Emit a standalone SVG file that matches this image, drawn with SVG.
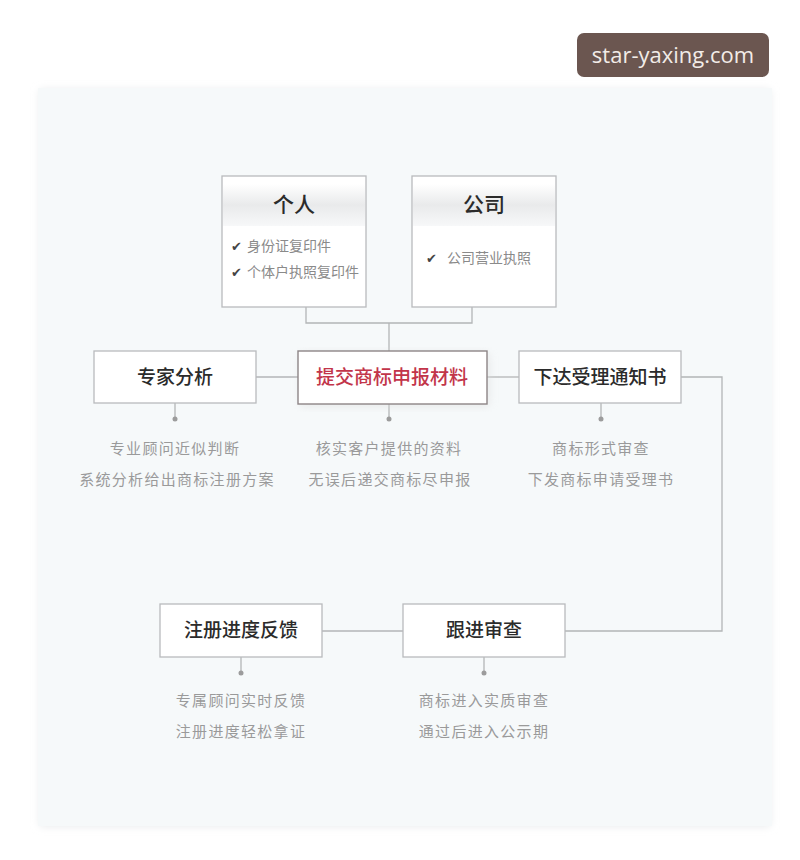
<svg xmlns="http://www.w3.org/2000/svg" width="800" height="860" viewBox="0 0 800 860">
<defs>
<linearGradient id="hdr" x1="0" y1="0" x2="0" y2="1">
<stop offset="0" stop-color="#ffffff"/>
<stop offset="0.5" stop-color="#e9eaeb"/>
<stop offset="1" stop-color="#f7f8f9"/>
</linearGradient>
<filter id="sh" x="-10%" y="-10%" width="120%" height="120%">
<feGaussianBlur stdDeviation="4"/>
</filter>
<style>
.box{fill:#ffffff;stroke:#b9bbbd;stroke-width:1.3}
.title{font-family:"Noto Sans CJK SC","Noto Sans",sans-serif;font-size:19px;font-weight:500;fill:#2b2b2b;text-anchor:middle}
.big{font-size:21px}
.item{font-family:"Noto Sans CJK SC",sans-serif;font-size:14px;fill:#8a8a8a}
.chk{font-family:"DejaVu Sans",sans-serif;font-size:13px;fill:#444}
.desc{font-family:"Noto Sans CJK SC",sans-serif;font-size:15px;fill:#9a9a9a;text-anchor:middle;letter-spacing:1.3px}
.ln{fill:none;stroke:#b3b5b7;stroke-width:1.3}
.dot{fill:#9c9c9c}
</style>
</defs>
<rect width="800" height="860" fill="#ffffff"/>
<rect x="40" y="90" width="730" height="736" fill="#e6e8ea" filter="url(#sh)"/>
<rect x="38" y="88" width="734" height="738" fill="#f6f9fa"/>

<g id="watermark">
<rect x="577" y="33" width="192" height="44" rx="7" fill="#6b5650"/>
<text x="673" y="63" font-family="Open Sans,sans-serif" font-size="22" fill="#f2ece8" text-anchor="middle">star-yaxing.com</text>
</g>

<g id="connectors">
<path class="ln" d="M306 307 V323 H472 V307"/>
<path class="ln" d="M389 323 V351"/>
<path class="ln" d="M256 377 H298"/>
<path class="ln" d="M487 377 H519"/>
<path class="ln" d="M681 377 H722 V631 H565"/>
<path class="ln" d="M322 631 H403"/>
<path class="ln" d="M175 403 V418"/>
<path class="ln" d="M389 404 V418"/>
<path class="ln" d="M601 403 V418"/>
<path class="ln" d="M241 657 V672"/>
<path class="ln" d="M484 657 V672"/>
<circle class="dot" cx="175" cy="419" r="2.5"/>
<circle class="dot" cx="389" cy="419" r="2.5"/>
<circle class="dot" cx="601" cy="419" r="2.5"/>
<circle class="dot" cx="241" cy="673" r="2.5"/>
<circle class="dot" cx="484" cy="673" r="2.5"/>
</g>

<g id="geren">
<rect class="box" x="222" y="176" width="144" height="131"/>
<rect x="223" y="184" width="142" height="42" fill="url(#hdr)"/>
<text class="title big" x="294" y="212">个人</text>
<text class="chk" x="231" y="251">✔</text>
<text class="item" x="247" y="251">身份证复印件</text>
<text class="chk" x="231" y="277">✔</text>
<text class="item" x="247" y="277">个体户执照复印件</text>
</g>

<g id="gongsi">
<rect class="box" x="412" y="176" width="144" height="131"/>
<rect x="413" y="184" width="142" height="42" fill="url(#hdr)"/>
<text class="title big" x="484" y="212">公司</text>
<text class="chk" x="426" y="263">✔</text>
<text class="item" x="447" y="263">公司营业执照</text>
</g>

<g id="zhuanjia">
<rect class="box" x="94" y="351" width="162" height="52"/>
<text class="title" x="175" y="384">专家分析</text>
<text class="desc" x="175" y="454">专业顾问近似判断</text>
<text class="desc" x="177" y="485">系统分析给出商标注册方案</text>
</g>

<g id="tijiao">
<rect x="300" y="353" width="189" height="53" fill="#dcdcdc" filter="url(#sh)" opacity="0.6"/>
<rect x="298" y="351" width="189" height="53" fill="#ffffff" stroke="#8d8587" stroke-width="1.4"/>
<text class="title" x="392" y="384" style="fill:#c2354a">提交商标申报材料</text>
<text class="desc" x="389" y="454">核实客户提供的资料</text>
<text class="desc" x="390" y="485">无误后递交商标尽申报</text>
</g>

<g id="xiada">
<rect class="box" x="519" y="351" width="162" height="52"/>
<text class="title" x="600" y="384">下达受理通知书</text>
<text class="desc" x="601" y="454">商标形式审查</text>
<text class="desc" x="601" y="485">下发商标申请受理书</text>
</g>

<g id="zhuce">
<rect class="box" x="160" y="604" width="162" height="53"/>
<text class="title" x="241" y="637">注册进度反馈</text>
<text class="desc" x="241" y="706">专属顾问实时反馈</text>
<text class="desc" x="241" y="737">注册进度轻松拿证</text>
</g>

<g id="genjin">
<rect class="box" x="403" y="604" width="162" height="53"/>
<text class="title" x="484" y="637">跟进审查</text>
<text class="desc" x="484" y="706">商标进入实质审查</text>
<text class="desc" x="484" y="737">通过后进入公示期</text>
</g>
</svg>
